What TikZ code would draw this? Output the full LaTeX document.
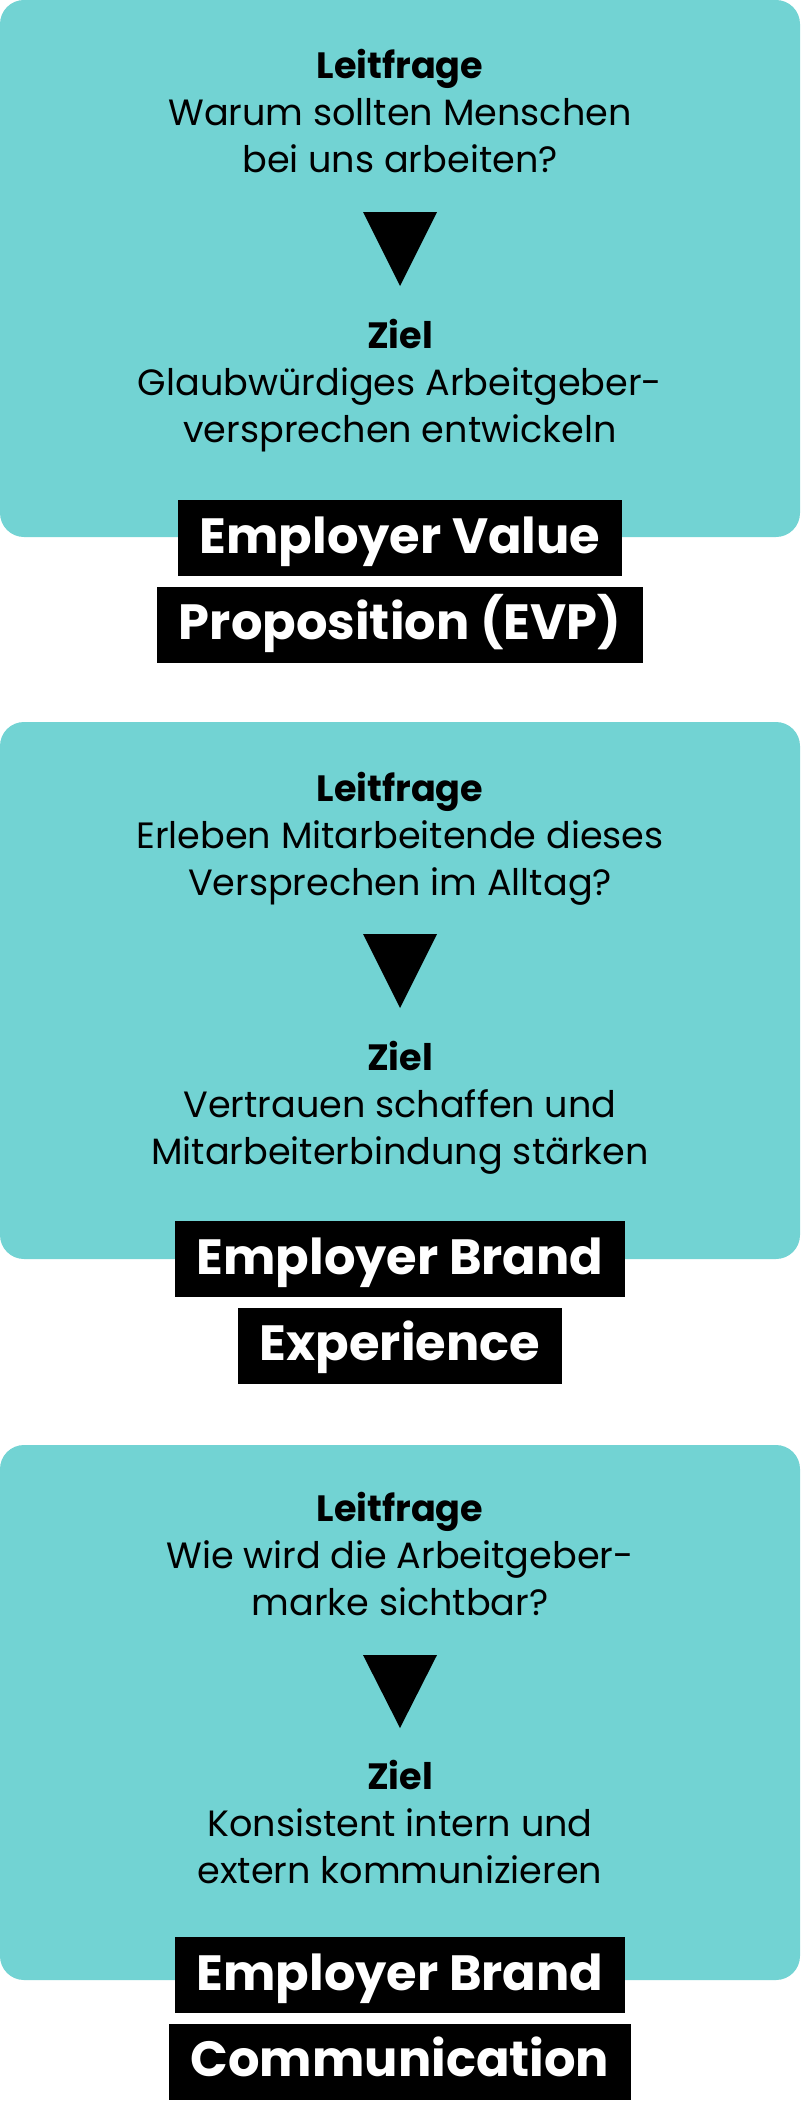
\documentclass[tikz,border=0pt]{standalone}
\usepackage{fontspec}
\setmainfont{Poppins}
\usetikzlibrary{positioning}

\definecolor{panelteal}{HTML}{72D3D3}

\begin{document}
\begin{tikzpicture}[
    x=1pt, y=-1pt,
    node distance = 10pt,
    panel/.style = {fill=panelteal, rounded corners=24pt},
    question/.style = {align=center, inner sep=0pt, font=\fontsize{36.6}{47}\selectfont},
    tag/.style = {fill=black, text=white, font=\fontsize{49.5}{49.5}\selectfont\bfseries, inner xsep=22pt, inner ysep=0pt, text height=53pt, text depth=23pt, anchor=north},
    pointer/.style = {fill=black}
]
    \useasboundingbox (0,0) rectangle (800,2103);

    % EVP
    \fill[panel] (0,0) rectangle (800,537);
    \node[question] (lf1) at (400,111.5) {\textbf{Leitfrage}\\Warum sollten Menschen\\bei uns arbeiten?};
    \fill[pointer] (363,212) -- (437,212) -- (400,286) -- cycle;
    \node[question] (ziel1) at (400,385.5) {\textbf{Ziel}\\Glaubwürdiges Arbeitgeber-\\versprechen entwickeln};
    \node[tag] (evp1) at (400,500) {Employer Value};
    \node[tag, below=of evp1] (evp2) {Proposition (EVP)};

    % Experience
    \fill[panel] (0,722) rectangle (800,1259);
    \node[question] (lf2) at (400,838.5) {\textbf{Leitfrage}\\Erleben Mitarbeitende dieses\\Versprechen im Alltag?};
    \fill[pointer] (363,934) -- (437,934) -- (400,1008) -- cycle;
    \node[question] (ziel2) at (400,1107.5) {\textbf{Ziel}\\Vertrauen schaffen und\\Mitarbeiterbindung stärken};
    \node[tag] (exp1) at (400,1221) {Employer Brand};
    \node[tag, below=of exp1] (exp2) {Experience};

    % Communication
    \fill[panel] (0,1445) rectangle (800,1980);
    \node[question] (lf3) at (400,1553.5) {\textbf{Leitfrage}\\Wie wird die Arbeitgeber-\\marke sichtbar?};
    \fill[pointer] (363,1655) -- (437,1655) -- (400,1728) -- cycle;
    \node[question] (ziel3) at (400,1821.5) {\textbf{Ziel}\\Konsistent intern und\\extern kommunizieren};
    \node[tag] (com1) at (400,1937) {Employer Brand};
    \node[tag, below=of com1] (com2) {Communication};
\end{tikzpicture}
\end{document}
